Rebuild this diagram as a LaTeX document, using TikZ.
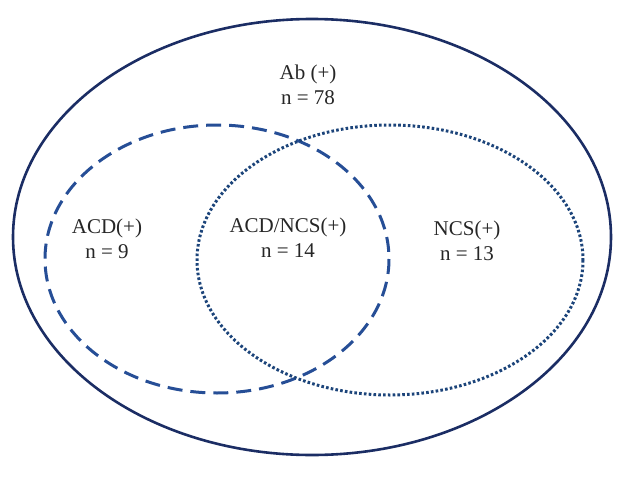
\documentclass[tikz,border=0pt]{standalone}
\usepackage{fontspec}
\setmainfont{Liberation Serif}
\usepackage{tikz}
\definecolor{abblue}{RGB}{27,45,100}
\definecolor{acdblue}{RGB}{38,78,150}
\definecolor{ncsblue}{RGB}{28,68,122}

\begin{document}
\begin{tikzpicture}[x=1pt,y=-1pt,
        lbl/.style={align=center,text=black!85,font=\fontsize{21}{25}\selectfont},
        abset/.style={draw=abblue,line width=2.6pt},
        acdset/.style={draw=acdblue,line width=3pt,dash pattern=on 15pt off 8pt},
        ncsset/.style={draw=ncsblue,line width=3pt,dash pattern=on 2.6pt off 2.2pt}]
    \useasboundingbox (0,0) rectangle (630,477);
    % set centres
    \coordinate (ab)  at (312,237);
    \coordinate (acd) at (217,259);
    \coordinate (ncs) at (390,260);
    \draw[abset]  (ab)  ellipse [x radius=299, y radius=218];
    \draw[acdset] (acd) ellipse [x radius=172, y radius=134];
    \draw[ncsset] (ncs) ellipse [x radius=193, y radius=135];
    % labels
    \node[lbl] (ab_lbl)   at (308,85)  {Ab (+)\\n = 78};
    \node[lbl] (acd_lbl)  at (107,239) {ACD(+)\\n = 9};
    \node[lbl] (both_lbl) at (288,238) {ACD/NCS(+)\\n = 14};
    \node[lbl] (ncs_lbl)  at (467,241) {NCS(+)\\n = 13};
\end{tikzpicture}
\end{document}
